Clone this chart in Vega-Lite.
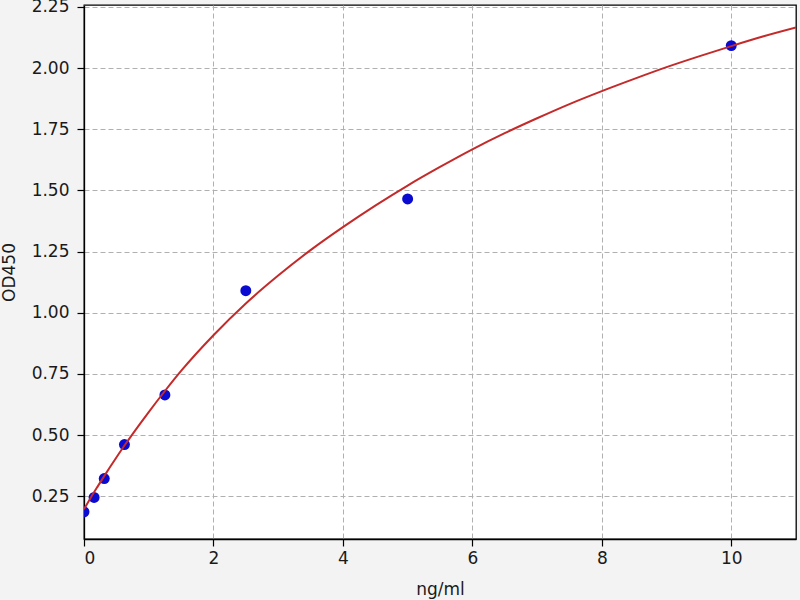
{
  "$schema": "https://vega.github.io/schema/vega-lite/v6.json",
  "width": 712,
  "height": 534,
  "autosize": "none",
  "padding": {"left": 84, "top": 5, "right": 4, "bottom": 61},
  "background": "#f3f3f3",
  "config": {
    "view": {"fill": "white", "stroke": "black", "strokeWidth": 1.3},
    "axis": {
      "labelFont": "DejaVu Sans",
      "titleFont": "DejaVu Sans",
      "labelFontSize": 17,
      "titleFontSize": 17,
      "titleFontWeight": "normal",
      "labelColor": "#1a1a1a",
      "titleColor": "#1a1a1a",
      "domain": true,
      "domainColor": "black",
      "domainWidth": 1.3,
      "tickColor": "black",
      "tickSize": 7,
      "tickWidth": 1.2,
      "grid": true,
      "gridColor": "#b0b0b0",
      "gridDash": [5, 3],
      "gridWidth": 1
    }
  },
  "datasets": {
    "points": [
      {"conc": 0, "od": 0.186},
      {"conc": 0.156, "od": 0.245},
      {"conc": 0.3125, "od": 0.322},
      {"conc": 0.625, "od": 0.461},
      {"conc": 1.25, "od": 0.664},
      {"conc": 2.5, "od": 1.09},
      {"conc": 5, "od": 1.465},
      {"conc": 10, "od": 2.092}
    ],
    "curve": [
      {"conc": 0, "od": 0.197},
      {"conc": 0.1, "od": 0.242},
      {"conc": 0.2, "od": 0.285},
      {"conc": 0.3, "od": 0.327},
      {"conc": 0.4, "od": 0.368},
      {"conc": 0.5, "od": 0.408},
      {"conc": 0.625, "od": 0.457},
      {"conc": 0.75, "od": 0.504},
      {"conc": 1.0, "od": 0.594},
      {"conc": 1.25, "od": 0.68},
      {"conc": 1.5, "od": 0.762},
      {"conc": 2.0, "od": 0.908},
      {"conc": 2.5, "od": 1.038},
      {"conc": 3.0, "od": 1.152},
      {"conc": 3.5, "od": 1.256},
      {"conc": 4.0, "od": 1.35},
      {"conc": 4.5, "od": 1.438},
      {"conc": 5.0, "od": 1.52},
      {"conc": 5.5, "od": 1.596},
      {"conc": 6.0, "od": 1.668},
      {"conc": 6.5, "od": 1.734},
      {"conc": 7.0, "od": 1.795},
      {"conc": 7.5, "od": 1.853},
      {"conc": 8.0, "od": 1.906},
      {"conc": 8.5, "od": 1.956},
      {"conc": 9.0, "od": 2.004},
      {"conc": 9.5, "od": 2.048},
      {"conc": 10.0, "od": 2.09},
      {"conc": 10.5, "od": 2.13},
      {"conc": 11.0, "od": 2.166}
    ]
  },
  "encoding": {
    "x": {
      "field": "conc",
      "type": "quantitative",
      "scale": {"domain": [0, 11], "nice": false, "zero": false},
      "axis": {
        "title": "ng/ml",
        "values": [0, 2, 4, 6, 8, 10],
        "labelPadding": 4,
        "titleY": 50,
        "titleBaseline": "middle"
      }
    },
    "y": {
      "field": "od",
      "type": "quantitative",
      "scale": {"domain": [0.075, 2.258], "nice": false, "zero": false},
      "axis": {
        "title": "OD450",
        "values": [0.25, 0.5, 0.75, 1.0, 1.25, 1.5, 1.75, 2.0, 2.25],
        "format": ".2f",
        "labelPadding": 8,
        "titleX": -75,
        "titleY": 267,
        "titleAngle": -90,
        "titleAlign": "center",
        "titleBaseline": "middle"
      }
    }
  },
  "layer": [
    {
      "data": {"name": "points"},
      "mark": {"type": "circle", "size": 120, "color": "#0a0ad0", "opacity": 1, "clip": true}
    },
    {
      "data": {"name": "curve"},
      "mark": {"type": "line", "color": "#c42a2a", "strokeWidth": 2, "interpolate": "monotone", "clip": true}
    }
  ]
}
